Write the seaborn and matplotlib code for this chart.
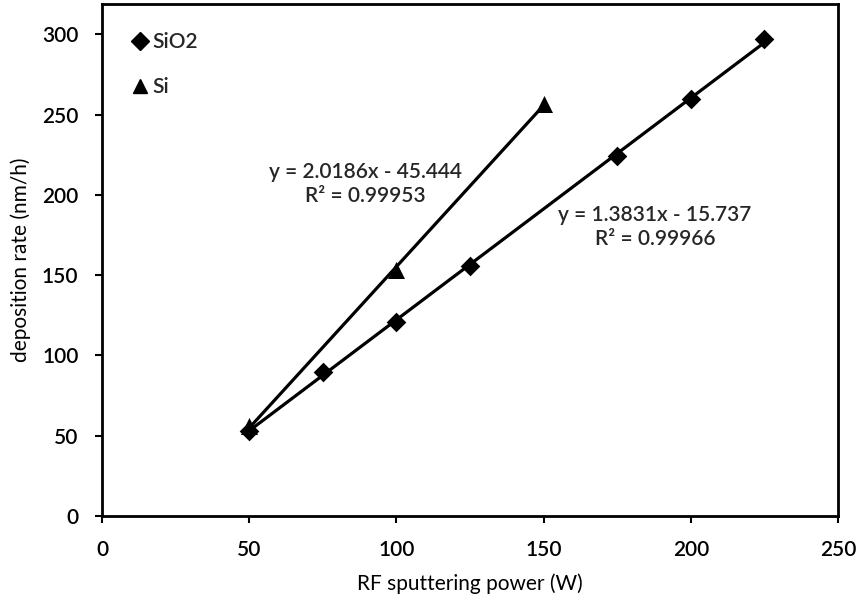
import matplotlib
matplotlib.use("Agg")
import matplotlib.pyplot as plt
from matplotlib.lines import Line2D
import seaborn as sns
import pandas as pd

# ---- data ----
sio2_power = [50, 75, 100, 125, 175, 200, 225]
sio2_rate = [53, 90, 121, 156, 224, 260, 297]
si_power = [50, 100, 150]
si_rate = [56, 153, 257]

sio2_eq = "y = 1.3831x - 15.737\nR\u00b2 = 0.99966"
si_eq = "y = 2.0186x - 45.444\nR\u00b2 = 0.99953"

x_ticks = [0, 50, 100, 150, 200, 250]
y_ticks = [0, 50, 100, 150, 200, 250, 300]
x_label = "RF sputtering power (W)"
y_label = "deposition rate (nm/h)"

sns.set_theme(style="white")
plt.rcParams["font.family"] = ["Lato", "DejaVu Sans"]
plt.rcParams["font.weight"] = "semibold"

W, H = 859, 603
fig = plt.figure(figsize=(W / 100, H / 100), dpi=100)
ax = fig.add_axes([102 / W, 1 - 516 / H, (838 - 102) / W, (516 - 4) / H])

df_sio2 = pd.DataFrame({"power": sio2_power, "rate": sio2_rate})
df_si = pd.DataFrame({"power": si_power, "rate": si_rate})

sns.regplot(data=df_sio2, x="power", y="rate", ax=ax, ci=None, truncate=True,
            marker="D", color="black",
            scatter_kws={"s": 100, "alpha": 1, "edgecolors": "black", "linewidths": 0, "zorder": 3},
            line_kws={"lw": 2.3, "color": "black"})
sns.regplot(data=df_si, x="power", y="rate", ax=ax, ci=None, truncate=True,
            marker="^", color="black",
            scatter_kws={"s": 150, "alpha": 1, "edgecolors": "black", "linewidths": 0, "zorder": 3},
            line_kws={"lw": 2.3, "color": "black"})

ax.set_xlim(0, 250)
ax.set_ylim(0, 319)
ax.set_xticks(x_ticks)
ax.set_yticks(y_ticks)
ax.set_xlabel(x_label, fontsize=15, labelpad=10)
ax.set_ylabel(y_label, fontsize=15, labelpad=8)
ax.tick_params(axis="both", labelsize=15, direction="out", length=5, width=1.5,
               colors="black", pad=12, bottom=True, left=True)
for s in ax.spines.values():
    s.set_visible(True)
    s.set_color("black")
    s.set_linewidth(2)

fig.text(365 / W, 1 - 184 / H, si_eq, ha="center", va="center", fontsize=15,
         linespacing=1.3)
fig.text(655 / W, 1 - 227 / H, sio2_eq, ha="center", va="center", fontsize=15,
         linespacing=1.3)

handles = [
    Line2D([], [], marker="D", color="black", linestyle="none", markersize=9),
    Line2D([], [], marker="^", color="black", linestyle="none", markersize=10.5),
]
ax.legend(handles, ["SiO2", "Si"], loc="upper left",
          bbox_to_anchor=(134 / W, 1 - 32 / H), bbox_transform=fig.transFigure,
          frameon=False, fontsize=15, handlelength=0.6, handletextpad=0.3,
          labelspacing=1.2, borderaxespad=0, borderpad=0)

ax.xaxis.label.set_color("black")
ax.yaxis.label.set_color("black")
fig.savefig("out.png", dpi=100, facecolor="white")
